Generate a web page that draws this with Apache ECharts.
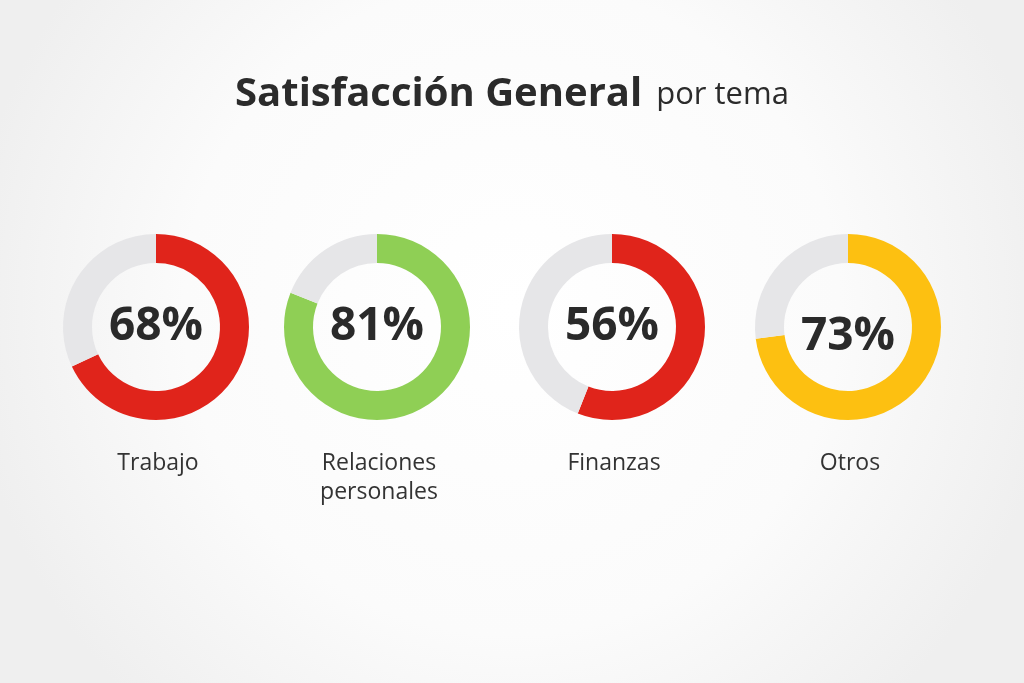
<!DOCTYPE html>
<html>
<head>
<meta charset="utf-8">
<script src="https://cdn.jsdelivr.net/npm/echarts@6/dist/echarts.min.js"></script>
<style>
  html, body { margin: 0; padding: 0; }
  #main { width: 1024px; height: 683px; }
</style>
</head>
<body>
<div id="main"></div>
<script>
// datos
const temas = ['Trabajo', 'Relaciones\npersonales', 'Finanzas', 'Otros']
const valores = [68, 81, 56, 73]
const colores = ['#e0241b', '#8fcf55', '#e0241b', '#fdc011']
const centrosX = [156, 377, 612, 848]

const track = '#e6e6e8'
const font = '"Open Sans", "Noto Sans", sans-serif'

const chart = echarts.init(document.getElementById('main'))

const series = valores.map((v, i) => ({
  type: 'pie',
  center: [centrosX[i], 327],
  radius: [64, 93],
  startAngle: 90,
  clockwise: true,
  silent: true,
  animation: false,
  label: { show: false },
  labelLine: { show: false },
  data: [
    {
      value: v,
      itemStyle: { color: colores[i] },
      label: {
        show: true,
        position: 'center',
        formatter: v + '%',
        fontFamily: font,
        fontWeight: 'bold',
        fontSize: 46,
        color: '#2a2a2a',
        offset: [0, i === 3 ? 10 : 0]
      }
    },
    { value: 100 - v, itemStyle: { color: track } }
  ]
}))

chart.setOption({
  backgroundColor: {
    type: 'radial', x: 0.5, y: 0.45, r: 0.8,
    colorStops: [
      { offset: 0, color: '#ffffff' },
      { offset: 0.6, color: '#fbfbfb' },
      { offset: 1, color: '#efefef' }
    ]
  },
  title: [{
    text: '{b|Satisfacción General}{r|por tema}',
    left: 'center',
    top: 70,
    textStyle: {
      rich: {
        b: { fontFamily: font, fontWeight: 'bold', fontSize: 40, color: '#2b2b2b' },
        r: { fontFamily: font, fontWeight: 'normal', fontSize: 31, color: '#2b2b2b', padding: [0, 0, 0, 14] }
      }
    }
  }].concat(temas.map((t, i) => ({
    text: t,
    left: centrosX[i] - 3,
    top: 444,
    textAlign: 'center',
    textStyle: {
      fontFamily: font,
      fontWeight: 'normal',
      fontSize: 23,
      lineHeight: 29,
      color: '#333333'
    }
  }))),
  series: series
})
</script>
</body>
</html>
